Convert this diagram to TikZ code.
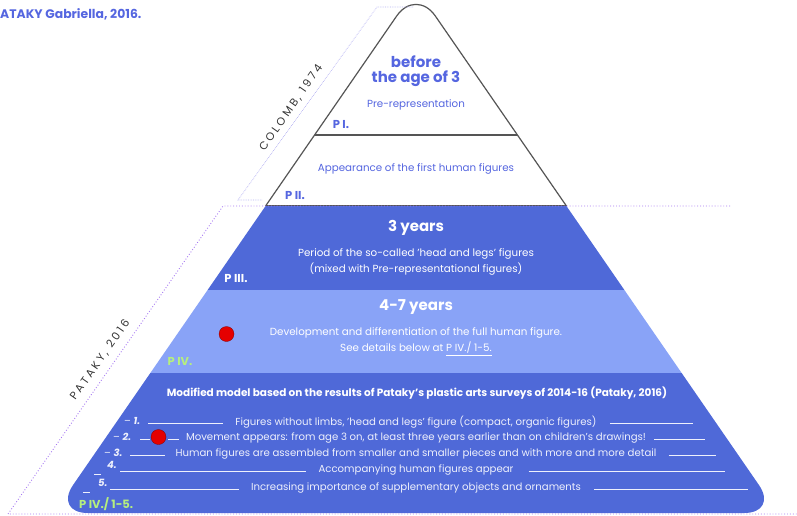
\documentclass[tikz,border=0pt]{standalone}
\usepackage{fontspec}
\setmainfont{Poppins}
\usetikzlibrary{calc}
\definecolor{dblue}{HTML}{4F69D8}
\definecolor{lblue}{HTML}{89A3F7}
\definecolor{tblue}{HTML}{5566E0}
\definecolor{pgreen}{HTML}{B6EF7E}
\definecolor{purp}{HTML}{A77AF2}
\definecolor{lav}{HTML}{B3B0F2}
\definecolor{edgegray}{HTML}{555555}
\definecolor{listwhite}{HTML}{EEF0FC}
\begin{document}
\begin{tikzpicture}[x=1pt,y=-1pt,
  body/.style={font=\fontsize{10.3}{12}\selectfont, inner sep=0pt},
  bodyblue/.style={body, text=tblue},
  bodywhite/.style={body, text=white},
  bigblue/.style={font=\bfseries\fontsize{15}{17}\selectfont, text=tblue, inner sep=0pt},
  bigwhite/.style={font=\bfseries\fontsize{15}{17}\selectfont, text=white, inner sep=0pt},
  plabel/.style={font=\bfseries\fontsize{11.5}{12}\selectfont, inner sep=0pt},
  listtext/.style={font=\fontsize{10.15}{12}\selectfont, text=listwhite, inner sep=0pt},
  listnum/.style={font=\fontsize{10}{12}\selectfont, text=listwhite, inner sep=0pt, anchor=west},
  listline/.style={listwhite, line width=0.9pt},
  reddot/.style={circle, fill=red!90!black, draw=red!50!black, line width=0.3pt, minimum size=15pt, inner sep=0pt},
  sidelabel/.style={font=\fontsize{11}{12}\selectfont\addfontfeatures{LetterSpace=24}, text=black!80, rotate=55, inner sep=0pt},
  edgeline/.style={edgegray, line width=1.2pt}
]
\useasboundingbox (0,0) rectangle (797,516);

% pyramid bands
\begin{scope}
  \clip[rounded corners=34pt] (53.75,513) -- (416,-12) -- (778.25,513) -- cycle;
  \fill[white] (0,-20) rectangle (797,205);
  \fill[dblue] (0,205) rectangle (797,289.5);
  \fill[lblue] (0,289.5) rectangle (797,372.5);
  \fill[dblue] (0,372.5) rectangle (797,520);
\end{scope}

% outline of the white part
\begin{scope}
  \clip (0,-20) rectangle (797,205);
  \draw[edgeline, rounded corners=34pt] (53.75,513) -- (416,-12) -- (778.25,513);
\end{scope}
\coordinate (s1l) at (314.6,135);
\coordinate (s1r) at (517.4,135);
\coordinate (s2l) at (266.3,205);
\coordinate (s2r) at (565.7,205);
\draw[edgeline] (s1l) -- (s1r);
\draw[edgegray, line width=1pt] (s2l) -- (s2r);

% dotted frames
\coordinate (c1) at (413,7);
\coordinate (c2) at (377,7);
\coordinate (c3) at (238,200);
\coordinate (c4) at (262,200);
\draw[lav, densely dotted, line width=0.7pt] (c1) -- (c2) -- (c3) -- (c4);
\coordinate (d1) at (730,206);
\coordinate (d2) at (223,206);
\coordinate (d3) at (8,514);
\coordinate (d4) at (797,514);
\draw[purp, dotted, line width=0.9pt] (d1) -- (d2) -- (d3) -- (d4);

% title and side labels
\node[font=\bfseries\fontsize{12.4}{14}\selectfont, text=tblue, anchor=west, inner sep=0pt] (title) at (0,14) {ATAKY Gabriella, 2016.};
\node[sidelabel] (colomb) at (291,108) {COLOMB, 1974};
\node[sidelabel] (pataky) at (100,360) {PATAKY, 2016};

% top white levels
\node[bigblue] (before) at (416,62) {before};
\node[bigblue] (age) at (416,79) {the age of 3};
\node[bodyblue] (prerep) at (416,105) {Pre-representation};
\node[plabel, text=tblue] (p1) at (341,125) {P I.};
\node[bodyblue] (appear) at (416,169) {Appearance of the first human figures};
\node[plabel, text=tblue] (p2) at (295,196) {P II.};

% P III
\node[bigwhite] (three) at (416,228) {3 years};
\node[bodywhite] (per1) at (416,254) {Period of the so-called 'head and legs' figures};
\node[bodywhite] (per2) at (416,269) {(mixed with Pre-representational figures)};
\node[plabel, text=white] (p3) at (236,279) {P III.};

% P IV
\node[bigwhite] (four) at (416,307) {4-7 years};
\node[bodywhite] (dev1) at (416,333) {Development and differentiation of the full human figure.};
\node[bodywhite] (dev2) at (416,349) {See details below at \underline{P IV./ 1-5.}};
\node[reddot] (dot1) at (226.5,334) {};
\node[plabel, text=pgreen] (p4) at (180,362) {P IV.};

% P IV / 1-5
\node[font=\bfseries\fontsize{10.5}{12}\selectfont, text=white, inner sep=0pt] (mod) at (417,393) {Modified model based on the results of Pataky's plastic arts surveys of 2014-16 (Pataky, 2016)};

\node[listtext] (t1) at (416,422) {Figures without limbs, 'head and legs' figure (compact, organic figures)};
\node[listtext] (t2) at (416,438) {Movement appears: from age 3 on, at least three years earlier than on children's drawings!};
\node[listtext] (t3) at (416,454) {Human figures are assembled from smaller and smaller pieces and with more and more detail};
\node[listtext] (t4) at (416,470) {Accompanying human figures appear};
\node[listtext] (t5) at (416,488) {Increasing importance of supplementary objects and ornaments};

\node[listnum] (n1) at (124,421) {– \textbf{\textit{1.}}};
\node[listnum] (n2) at (113,437) {– \textbf{\textit{2.}}};
\node[listnum] (n3) at (104,453) {– \textbf{\textit{3.}}};
\node[listnum] (n4) at (107,465) {\textbf{\textit{4.}}};
\node[listnum] (n5) at (98,483) {\textbf{\textit{5.}}};
\coordinate (u4a) at (94,474);
\coordinate (u4b) at (101,474);
\coordinate (u5a) at (83,492);
\coordinate (u5b) at (90,492);
\draw[listline] (u4a) -- (u4b);
\draw[listline] (u5a) -- (u5b);

\coordinate (a1) at (148,423); \coordinate (b1) at (693,423);
\coordinate (a2) at (140,439); \coordinate (a2b) at (150,439);
\coordinate (a2c) at (168,439); \coordinate (b2) at (705,439);
\coordinate (a3) at (130,455); \coordinate (b3) at (716,455);
\coordinate (a4) at (120,471); \coordinate (b4) at (725,471);
\coordinate (a5) at (110,489); \coordinate (b5) at (748,489);

\draw[listline] (a1) -- ([xshift=-12pt,yshift=-1pt]t1.west);
\draw[listline] ([xshift=13pt,yshift=-1pt]t1.east) -- (b1);
\draw[listline] (a2) -- (a2b);
\draw[listline] (a2c) -- ([xshift=-7pt,yshift=-1pt]t2.west);
\draw[listline] ([xshift=8pt,yshift=-1pt]t2.east) -- (b2);
\draw[listline] (a3) -- ([xshift=-10pt,yshift=-1pt]t3.west);
\draw[listline] ([xshift=12pt,yshift=-1pt]t3.east) -- (b3);
\draw[listline] (a4) -- ([xshift=-12pt,yshift=-1pt]t4.west);
\draw[listline] ([xshift=15pt,yshift=-1pt]t4.east) -- (b4);
\draw[listline] (a5) -- ([xshift=-12pt,yshift=-1pt]t5.west);
\draw[listline] ([xshift=13pt,yshift=-1pt]t5.east) -- (b5);
\node[reddot] (dot2) at (158.5,437) {};

\node[plabel, text=pgreen, anchor=west] (p45) at (79,504) {P IV./ 1-5.};
\end{tikzpicture}
\end{document}
